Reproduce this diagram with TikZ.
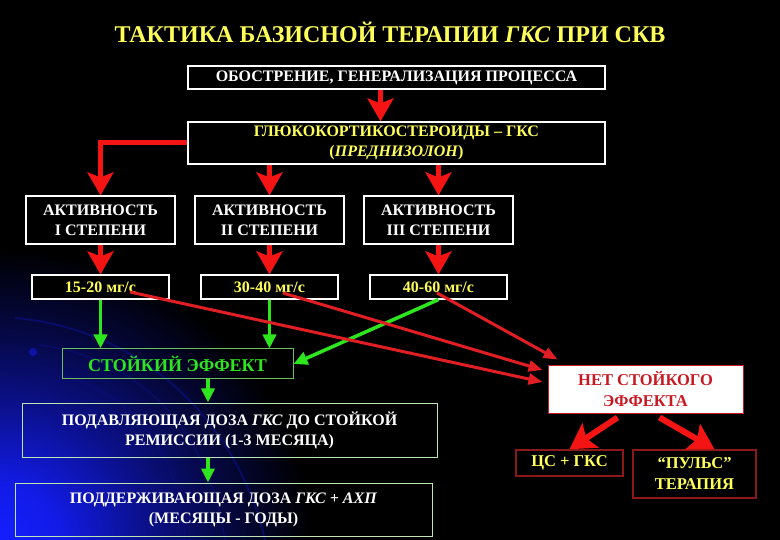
\documentclass[tikz,border=0pt]{standalone}
\usepackage{fontspec}
\setmainfont{Liberation Serif}
\usetikzlibrary{arrows.meta,calc}
\definecolor{tred}{RGB}{245,20,20}
\definecolor{lred}{RGB}{225,30,35}
\definecolor{tgreen}{RGB}{45,230,30}
\definecolor{tyellow}{RGB}{255,255,90}
\definecolor{sgreen}{RGB}{110,190,90}
\definecolor{pgreen}{RGB}{190,230,180}
\definecolor{dred}{RGB}{140,25,25}
\definecolor{nred}{RGB}{200,25,35}
\definecolor{glowblue}{RGB}{20,30,255}
\pgfdeclareradialshading{glow}{\pgfpoint{0bp}{0bp}}{color(0bp)=(glowblue); color(2.5bp)=(glowblue!90!black); color(6bp)=(glowblue!55!black); color(9.5bp)=(glowblue!25!black); color(13bp)=(black); color(50bp)=(black)}
\tikzset{
  box/.style={draw=white, line width=1.2pt, fill=black, inner sep=0pt, align=center,
    font=\fontsize{16}{20}\selectfont\bfseries, text=white},
  yel/.style={text=tyellow},
  bigred/.style={draw=tred, line width=5pt, -{Stealth[width=26pt,length=23pt,inset=5pt]}},
  redline/.style={draw=lred, line width=3pt, -{Triangle[width=11pt,length=14pt]}},
  grn/.style={draw=tgreen, line width=3.5pt, -{Triangle[width=13pt,length=14pt]}},
  netred/.style={draw=tred, line width=6pt, -{Stealth[width=29pt,length=25pt,inset=5pt]}},
}
\begin{document}
\begin{tikzpicture}[x=1pt,y=-1pt]
\useasboundingbox (0,0) rectangle (780,540);
\fill[black] (0,0) rectangle (780,540);
\begin{scope}
\clip (0,0) rectangle (780,540);
\shade[shading=glow] (0,540) ellipse (600 and 560);
\draw[glowblue!55!black, line width=2pt, opacity=0.55] (15,318) .. controls (150,330) and (240,430) .. (265,540);
\draw[glowblue!50!black, line width=1.5pt, opacity=0.5] (40,345) .. controls (150,360) and (210,440) .. (225,540);
\draw[glowblue!50!black, line width=1.5pt, opacity=0.5] (60,375) .. controls (140,395) and (180,460) .. (185,540);
\fill[glowblue!80!black, opacity=0.7] (33,352) circle (4);
\end{scope}

\node[font=\fontsize{24}{28}\selectfont\bfseries, text=tyellow] (T) at (390,32)
  {ТАКТИКА БАЗИСНОЙ ТЕРАПИИ \textit{ГКС} ПРИ СКВ};

\node[box, minimum width=417pt, minimum height=23pt] (B1) at (396.5,77.5)
  {ОБОСТРЕНИЕ, ГЕНЕРАЛИЗАЦИЯ ПРОЦЕССА};
\node[box, yel, minimum width=417pt, minimum height=42pt] (B2) at (396.5,143)
  {ГЛЮКОКОРТИКОСТЕРОИДЫ – ГКС\\(\textit{ПРЕДНИЗОЛОН})};

\node[box, minimum width=149pt, minimum height=48pt] (A1) at (100.5,220) {АКТИВНОСТЬ\\I СТЕПЕНИ};
\node[box, minimum width=149pt, minimum height=48pt] (A2) at (269.5,220) {АКТИВНОСТЬ\\II СТЕПЕНИ};
\node[box, minimum width=149pt, minimum height=48pt] (A3) at (438.5,220) {АКТИВНОСТЬ\\III СТЕПЕНИ};

\node[box, yel, minimum width=137pt, minimum height=24pt] (D1) at (100.5,287) {15-20 мг/с};
\node[box, yel, minimum width=137pt, minimum height=24pt] (D2) at (269.5,287) {30-40 мг/с};
\node[box, yel, minimum width=137pt, minimum height=24pt] (D3) at (438.5,287) {40-60 мг/с};

\node[box, draw=sgreen, line width=1pt, text=tgreen, fill=none, font=\fontsize{18}{20}\selectfont\bfseries,
  minimum width=231pt, minimum height=30pt] (S) at (177.5,364) {СТОЙКИЙ ЭФФЕКТ};
\node[box, draw=pgreen, line width=1pt, fill=none, minimum width=415pt, minimum height=54pt] (P) at (229.5,430)
  {ПОДАВЛЯЮЩАЯ ДОЗА \textit{ГКС} ДО СТОЙКОЙ\\РЕМИССИИ (1-3 МЕСЯЦА)};
\node[box, draw=pgreen, line width=1pt, fill=none, minimum width=417pt, minimum height=53pt] (M) at (223.5,509.5)
  {ПОДДЕРЖИВАЮЩАЯ ДОЗА \textit{ГКС + АХП}\\(МЕСЯЦЫ - ГОДЫ)};

\node[box, draw=nred, fill=white, text=nred, line width=1pt, font=\fontsize{16.5}{21}\selectfont\bfseries,
  minimum width=195pt, minimum height=47pt] (N) at (645.5,389.5) {НЕТ СТОЙКОГО\\ЭФФЕКТА};
\node[box, yel, draw=dred, line width=1.5pt, font=\fontsize{16.5}{21}\selectfont\bfseries,
  minimum width=107pt, minimum height=26pt] (C) at (569.5,463) {ЦС + ГКС};
\node[box, yel, draw=dred, line width=1.5pt, font=\fontsize{16.5}{21}\selectfont\bfseries,
  minimum width=123pt, minimum height=48pt] (U) at (694.5,474) {“ПУЛЬС”\\ТЕРАПИЯ};

% red arrows top
\draw[bigred] ([xshift=-16pt]B1.south) -- ([xshift=-16pt]B2.north);
\draw[bigred] (B2.west) -- (B2.west -| A1.north) -- (A1.north);
\draw[bigred] (B2.south -| A2.north) -- (A2.north);
\draw[bigred] (B2.south -| A3.north) -- (A3.north);
\draw[bigred] (A1.south) -- (D1.north);
\draw[bigred] (A2.south) -- (D2.north);
\draw[bigred] (A3.south) -- (D3.north);

% green arrows
\draw[grn] (D1.south) -- (D1.south |- S.north);
\draw[grn] (D2.south) -- (D2.south |- S.north);
\draw[grn] (D3.south) -- (S.east);
\draw[grn] ([xshift=30.5pt]S.south) -- ([xshift=30.5pt]S.south |- P.north);
\draw[grn] ([xshift=30.5pt]S.south |- P.south) -- ([xshift=30.5pt]S.south |- M.north);

% red thin lines to N
\draw[redline] ($(D1.center)+(29.5,5)$) -- ($(N.west)+(-5,-7.5)$);
\draw[redline] ($(D2.center)+(13.5,6)$) -- ($(N.west)+(-5,-19.5)$);
\draw[redline] ($(D3.center)+(-1.5,6)$) -- ($(N.north west)+(10,-6)$);

% N to bottom boxes
\draw[netred] ($(N.south)+(-28,4)$) -- (C.north);
\draw[netred] ($(N.south)+(14,4)$) -- ($(U.north)+(20,0)$);
\end{tikzpicture}
\end{document}
